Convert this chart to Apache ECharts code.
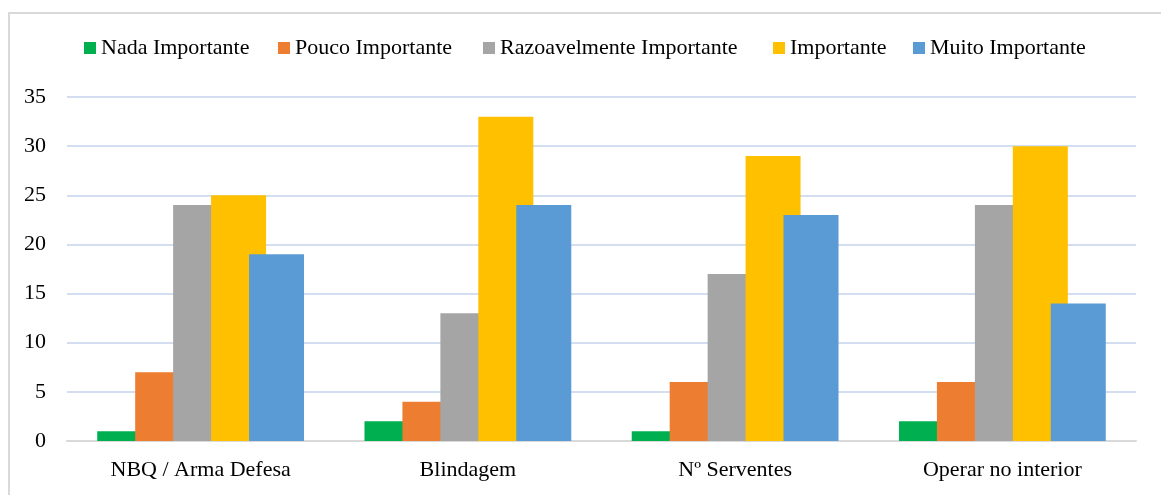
<!DOCTYPE html>
<html>
<head>
<meta charset="utf-8">
<script src="https://cdn.jsdelivr.net/npm/echarts@6/dist/echarts.min.js"></script>
<style>
  html, body { margin: 0; padding: 0; background: #fff; }
  #chart { width: 1161px; height: 495px; }
</style>
</head>
<body>
<div id="chart"></div>
<script>
const categories = ['NBQ / Arma Defesa', 'Blindagem', 'Nº Serventes', 'Operar no interior'];
const seriesNames = ['Nada Importante', 'Pouco Importante', 'Razoavelmente Importante', 'Importante', 'Muito Importante'];
const nada = [1, 2, 1, 2];
const pouco = [7, 4, 6, 6];
const razoavel = [24, 13, 17, 24];
const importante = [25, 33, 29, 30];
const muito = [19, 24, 23, 14];
const colors = ['#00B050', '#ED7D31', '#A5A5A5', '#FFC000', '#5B9BD5'];

const allValues = [nada, pouco, razoavel, importante, muito];
const font = 'Liberation Serif, Times New Roman, serif';

const chart = echarts.init(document.getElementById('chart'));

// bars overlap a bit, like the spreadsheet original
const series = allValues.map((vals, i) => ({
  name: seriesNames[i],
  type: 'bar',
  data: vals,
  barWidth: 55,
  barGap: '-31%',
  itemStyle: { color: colors[i] },
  animation: false
}));

// one legend per item so each sits where the original put it
const legendLeft = [84, 278, 483, 773, 913];
const legends = seriesNames.map((name, i) => ({
  data: [name],
  top: 37,
  left: legendLeft[i],
  padding: 0,
  itemWidth: 12,
  itemHeight: 12,
  icon: 'rect',
  textStyle: { fontFamily: font, fontSize: 22, color: '#000' }
}));

chart.setOption({
  animation: false,
  color: colors,
  graphic: [{
    type: 'rect',
    shape: { x: 9, y: 13, width: 1200, height: 600 },
    style: { fill: 'none', stroke: '#D9D9D9', lineWidth: 2 },
    silent: true
  }],
  legend: legends,
  grid: { left: 67, right: 25, top: 97, bottom: 54 },
  xAxis: {
    type: 'category',
    data: categories,
    axisTick: { show: false },
    axisLine: { lineStyle: { color: '#D9D9D9', width: 2 } },
    axisLabel: { fontFamily: font, fontSize: 22, color: '#000', margin: 18 }
  },
  yAxis: {
    type: 'value',
    min: 0,
    max: 35,
    interval: 5,
    axisLine: { show: false },
    axisTick: { show: false },
    axisLabel: { fontFamily: font, fontSize: 22, color: '#000', margin: 21 },
    splitLine: { lineStyle: { color: '#C5D3EC', width: 1.5 } }
  },
  series: series
});
</script>
</body>
</html>
